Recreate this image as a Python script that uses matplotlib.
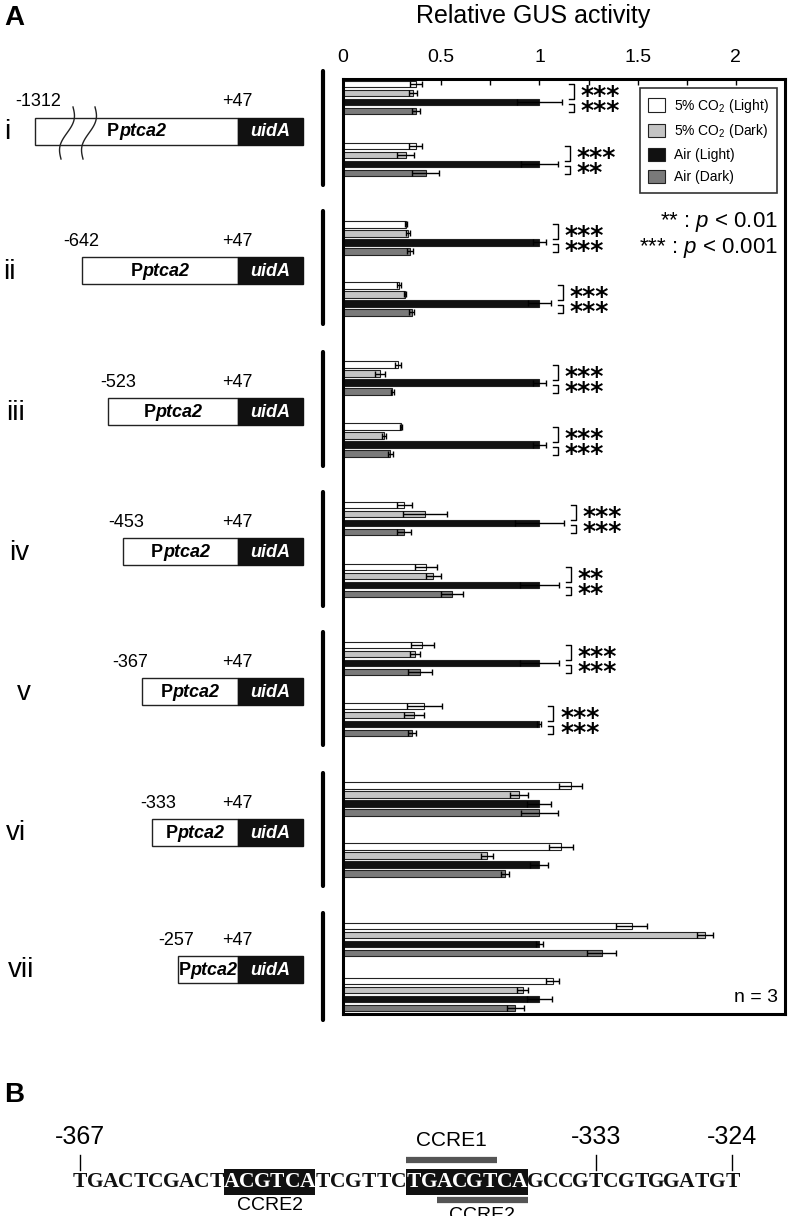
import numpy as np
import matplotlib
matplotlib.use("Agg")
import matplotlib.pyplot as plt
from matplotlib.patches import Rectangle

plt.rcParams['font.family'] = ['Liberation Sans', 'DejaVu Sans']
plt.rcParams['mathtext.fontset'] = 'custom'
plt.rcParams['mathtext.rm'] = 'Liberation Sans'
plt.rcParams['mathtext.it'] = 'Liberation Sans:italic'
plt.rcParams['mathtext.bf'] = 'Liberation Sans:bold'

# ---- data (two measurement rows per construct, i..vii) ----
constructs = ['i', 'ii', 'iii', 'iv', 'v', 'vi', 'vii']
starts = ['-1312', '-642', '-523', '-453', '-367', '-333', '-257']
conditions = ['5% CO$_2$ (Light)', '5% CO$_2$ (Dark)', 'Air (Light)', 'Air (Dark)']

co2_light = [0.37, 0.37, 0.32, 0.285, 0.28, 0.297, 0.312, 0.422, 0.404, 0.414, 1.159, 1.108, 1.469, 1.067]
co2_light_err = [0.03, 0.034, 0.005, 0.01, 0.014, 0.005, 0.037, 0.057, 0.058, 0.088, 0.058, 0.061, 0.08, 0.035]
co2_dark = [0.358, 0.319, 0.33, 0.318, 0.19, 0.21, 0.417, 0.46, 0.366, 0.363, 0.897, 0.734, 1.842, 0.914]
co2_dark_err = [0.02, 0.042, 0.01, 0.005, 0.025, 0.01, 0.11, 0.037, 0.027, 0.05, 0.046, 0.03, 0.039, 0.03]
air_light = [1.0, 1.0, 1.0, 1.0, 1.0, 1.0, 1.0, 1.0, 1.0, 1.0, 1.0, 1.0, 1.0, 1.0]
air_light_err = [0.115, 0.095, 0.034, 0.058, 0.034, 0.034, 0.124, 0.1, 0.1, 0.01, 0.061, 0.046, 0.017, 0.064]
air_dark = [0.37, 0.42, 0.341, 0.35, 0.25, 0.24, 0.312, 0.555, 0.392, 0.35, 1.0, 0.824, 1.316, 0.877]
air_dark_err = [0.02, 0.071, 0.015, 0.012, 0.008, 0.012, 0.035, 0.058, 0.059, 0.02, 0.092, 0.02, 0.073, 0.044]

sig_upper = ['***', '***', '***', '***', '***', '***', '***', '**', '***', '***', '', '', '', '']
sig_lower = ['***', '**', '***', '***', '***', '***', '***', '**', '***', '***', '', '', '', '']

seq = 'TGACTCGACTACGTCATCGTTCTGACGTCAGCCGTCGTGGATGT'
seq_start = -367
seq_marks = [-367, -333, -324]

# ---- layout (pixels) ----
W, H = 789, 1216
fig = plt.figure(figsize=(W / 100, H / 100), dpi=100)
ov = fig.add_axes([0, 0, 1, 1])
ov.set_xlim(0, W)
ov.set_ylim(H, 0)
ov.axis('off')

AX_L, AX_R, AX_T, AX_B = 343, 785, 79, 1014
ax = fig.add_axes([AX_L / W, 1 - AX_B / H, (AX_R - AX_L) / W, (AX_B - AX_T) / H])
ax.set_xlim(0, 2.25)
ax.set_ylim(AX_B, AX_T)

sub_off = [62, 61, 62, 62, 61, 61, 55]
row_y = []
for k in range(len(constructs)):
    y0 = 84 + k * 140.3
    row_y += [y0, y0 + sub_off[k]]
row_y = np.array(row_y)
pitch = 9

series = [(co2_light, co2_light_err, 'white'),
          (co2_dark, co2_dark_err, '#c4c4c4'),
          (air_light, air_light_err, '#111111'),
          (air_dark, air_dark_err, '#7a7a7a')]
handles = []
for c, (vals, errs, col) in enumerate(series):
    y = row_y + c * pitch
    b = ax.barh(y, vals, height=6.5, color=col, edgecolor='#222222', linewidth=0.8,
                label=conditions[c], zorder=2)
    ax.errorbar(vals, y, xerr=errs, fmt='none', ecolor='black', elinewidth=1,
                capsize=2.5, capthick=1, zorder=3)
    handles.append(b)

# significance brackets (upper: black vs 5% CO2 bars, lower: black vs air dark)
for j in range(len(row_y)):
    if not sig_upper[j]:
        continue
    yw = row_y[j]
    yb = row_y[j] + 2 * pitch
    yd = row_y[j] + 3 * pitch
    bx = air_light[j] + air_light_err[j] + 0.06
    ax.plot([bx - 0.025, bx, bx, bx - 0.025], [yw, yw, yb - 3, yb - 3], color='black', lw=1)
    ax.plot([bx - 0.025, bx, bx, bx - 0.025], [yb + 2, yb + 2, yd + 1, yd + 1], color='black', lw=1)
    ax.text(bx + 0.035, (yb + yd) / 2 + 11.5, sig_upper[j] + '\n' + sig_lower[j],
            family='DejaVu Sans', fontweight='bold', fontsize=18, va='baseline', ha='left',
            linespacing=0.53)

ax.set_yticks([])
ax.set_xticks([0, 0.5, 1, 1.5, 2])
ax.set_xticklabels(['0', '0.5', '1', '1.5', '2'])
ax.set_xticks(np.arange(0.25, 2.25, 0.5), minor=True)
ax.xaxis.tick_top()
ax.tick_params(axis='x', which='both', direction='in', length=4, width=1, labelsize=14, pad=9)
for s in ax.spines.values():
    s.set_linewidth(2.2)

leg = ax.legend(handles=handles, loc='upper right', bbox_to_anchor=(0.982, 0.990),
                borderaxespad=0, fontsize=10, frameon=True, fancybox=False,
                handlelength=1.25, handleheight=1.1, handletextpad=0.6,
                labelspacing=0.55, borderpad=0.6)
leg.get_frame().set_edgecolor('black')
leg.get_frame().set_linewidth(1.2)

ax.text(2.215, 222, '** : $\\it{p}$ < 0.01', fontsize=16, ha='right', va='center')
ax.text(2.215, 248, '*** : $\\it{p}$ < 0.001', fontsize=16, ha='right', va='center')
ax.text(2.215, 998, 'n = 3', fontsize=14, ha='right', va='center')

# ---- titles / panel letters ----
ov.text(533, 16, 'Relative GUS activity', fontsize=18, ha='center', va='center')
ov.text(4, 18, 'A', fontsize=20, fontweight='bold', ha='left', va='center')

# ---- construct diagrams ----
box_left = [35, 82, 108, 123, 142, 152, 178]
label_x = [38, 81, 118, 126, 130, 158, 176]
numeral_x = [7, 9, 16, 19, 24, 16, 21]
UID_L, UID_R = 238, 303
for k, name in enumerate(constructs):
    y_first = row_y[2 * k]
    y_last = row_y[2 * k + 1] + 3 * pitch
    yc = (y_first + y_last) / 2 + 2.5
    ov.plot([323, 323], [y_first - 13, y_last + 12], color='black', lw=3, solid_capstyle='round')
    ov.text(numeral_x[k], yc + 1, name, fontsize=20, ha='center', va='center')
    ov.add_patch(Rectangle((box_left[k], yc - 13.5), UID_L - box_left[k], 27,
                           facecolor='white', edgecolor='#222222', lw=1))
    ov.add_patch(Rectangle((UID_L, yc - 13.5), UID_R - UID_L, 27,
                           facecolor='#111111', edgecolor='#111111', lw=1))
    xc = (box_left[k] + UID_L) / 2
    ov.text(xc - 17.5, yc + 1, 'P', fontsize=13, fontweight='bold', ha='right', va='center')
    ov.text(xc - 17.5, yc + 1, 'ptca2', fontsize=13, fontweight='bold', style='italic',
            ha='left', va='center')
    ov.text((UID_L + UID_R) / 2, yc + 1, 'uidA', fontsize=13, fontweight='bold',
            style='italic', color='white', ha='center', va='center')
    ov.text(label_x[k], yc - 29, starts[k], fontsize=13, ha='center', va='center')
    ov.text(237, yc - 29, '+47', fontsize=13, ha='center', va='center')
    if k == 0:
        t = np.linspace(0, 1, 60)
        for x0 in (73, 95):
            ov.plot(x0 - 12 * t + 4 * np.sin(2 * np.pi * t), yc - 24 + 52 * t,
                    color='#222222', lw=1)

# ---- panel B: sequence ----
ov.text(4, 1095, 'B', fontsize=20, fontweight='bold', ha='left', va='center')
SX, SP, SY = 72.5, 15.17, 1182
cx = SX + (np.arange(len(seq)) + 0.5) * SP
dark = np.zeros(len(seq), bool)
i1 = seq.find('ACGTCA')
i2 = seq.find('TGACGTCA')
for st, ln in ((i1, 6), (i2, 8)):
    dark[st:st + ln] = True
    ov.add_patch(Rectangle((SX + st * SP, SY - 13), ln * SP, 26, facecolor='#111111',
                           edgecolor='none'))
for i, ch in enumerate(seq):
    ov.text(cx[i], SY, ch, family='Liberation Serif', fontweight='bold', fontsize=15.5,
            ha='center', va='center', color='white' if dark[i] else '#111111')
for m in seq_marks:
    x = cx[m - seq_start]
    ov.plot([x, x], [1155, 1170], color='black', lw=1)
    ov.text(x, 1137, str(m), fontsize=18, ha='center', va='center')
c1 = seq.find('TGACGT')
c2 = seq.find('ACGTCA', i1 + 1)
ov.plot([SX + c1 * SP, SX + (c1 + 6) * SP], [1160, 1160], color='#555555', lw=4.5, solid_capstyle='butt')
ov.text(SX + (c1 + 3) * SP, 1140, 'CCRE1', fontsize=15, ha='center', va='center')
ov.plot([SX + c2 * SP, SX + (c2 + 6) * SP], [1200, 1200], color='#555555', lw=4.5, solid_capstyle='butt')
ov.text(SX + (c2 + 3) * SP, 1215, 'CCRE2', fontsize=14, ha='center', va='center')
ov.text(SX + (i1 + 3) * SP, 1206, 'CCRE2', fontsize=14, ha='center', va='center')

fig.savefig('out.png', dpi=100)
